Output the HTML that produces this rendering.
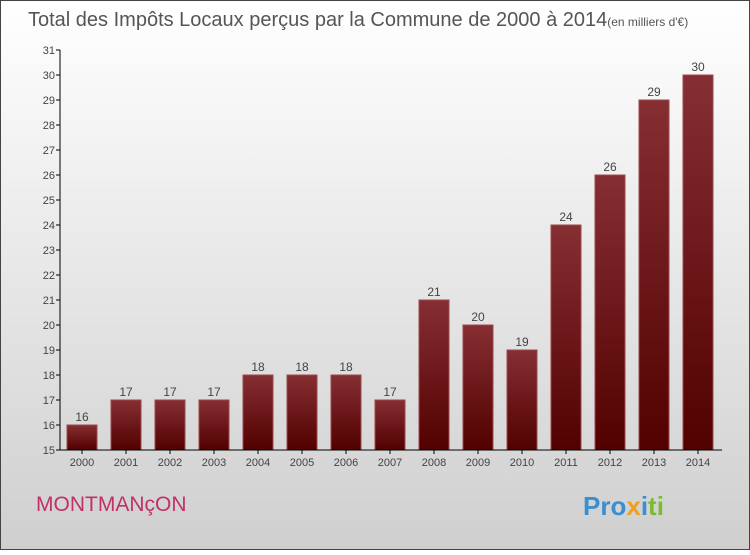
<!DOCTYPE html>
<html><head><meta charset="utf-8"><style>
body{margin:0;width:750px;height:550px;overflow:hidden;font-family:"Liberation Sans",sans-serif}
</style></head><body>
<svg id="chart" width="750" height="550" xmlns="http://www.w3.org/2000/svg">
<defs>
<linearGradient id="bg" x1="0" y1="0" x2="0" y2="1"><stop offset="0" stop-color="#ffffff"/><stop offset="1" stop-color="#cfcfcf"/></linearGradient>
<linearGradient id="bar" x1="0" y1="0" x2="0" y2="1"><stop offset="0" stop-color="#862f33"/><stop offset="1" stop-color="#520000"/></linearGradient>
</defs>
<rect x="0.5" y="0.5" width="749" height="549" fill="url(#bg)" stroke="#444"/>
<text x="28" y="26" font-size="20" fill="#555">Total des Impôts Locaux perçus par la Commune de 2000 à 2014<tspan font-size="12">(en milliers d'€)</tspan></text>
<g id="plot"></g>
<text x="36" y="511" font-size="21" fill="#c0306a">MONTMANçON</text>
<text x="583" y="515" font-size="26" font-weight="bold"><tspan fill="#3a8fd0">Pro</tspan><tspan fill="#f0a020">x</tspan><tspan fill="#3a8fd0">i</tspan><tspan fill="#7cbb30">ti</tspan></text>
</svg>
<script>
const categories=["2000","2001","2002","2003","2004","2005","2006","2007","2008","2009","2010","2011","2012","2013","2014"];
const values=[16,17,17,17,18,18,18,17,21,20,19,24,26,29,30];
const yTicks=[15,16,17,18,19,20,21,22,23,24,25,26,27,28,29,30,31];
const NS="http://www.w3.org/2000/svg";
const g=document.getElementById('plot');
const yMin=15,yMax=31,yTop=50,yBot=450,xLeft=60;
const y=v=>yBot-(v-yMin)/(yMax-yMin)*(yBot-yTop);
const x=i=>82+i*44;
function mk(t,a){const e=document.createElementNS(NS,t);for(const k in a)e.setAttribute(k,a[k]);g.appendChild(e);return e;}
yTicks.forEach(v=>{
 const l=mk('line',{x1:xLeft-4,x2:xLeft,y1:y(v),y2:y(v),stroke:'#000'});
 
 
 const t=mk('text',{x:xLeft-5,y:y(v)+4,'font-size':11,'text-anchor':'end',fill:'#444'});
 t.textContent=v;
 
 
});
values.forEach((v,i)=>{
 const r=mk('rect',{x:x(i)-15,y:y(v),width:30,height:yBot-y(v),fill:'url(#bar)',stroke:'#9a4a4e','stroke-width':1});
 
 
 const t=mk('text',{x:x(i),y:y(v)-4,'font-size':12,'text-anchor':'middle',fill:'#444'});
 t.textContent=v;
 
 
 const tk=mk('line',{x1:x(i),x2:x(i),y1:yBot,y2:yBot+4,stroke:'#000'});
 
 
 const c=mk('text',{x:x(i),y:yBot+16,'font-size':11,'text-anchor':'middle',fill:'#444'});
 c.textContent=categories[i];
 
 
});
const ya=mk('line',{x1:xLeft,x2:xLeft,y1:yTop,y2:yBot,stroke:'#000'});


const xa=mk('line',{x1:xLeft,x2:722,y1:yBot,y2:yBot,stroke:'#000'});


</script>
</body></html>
